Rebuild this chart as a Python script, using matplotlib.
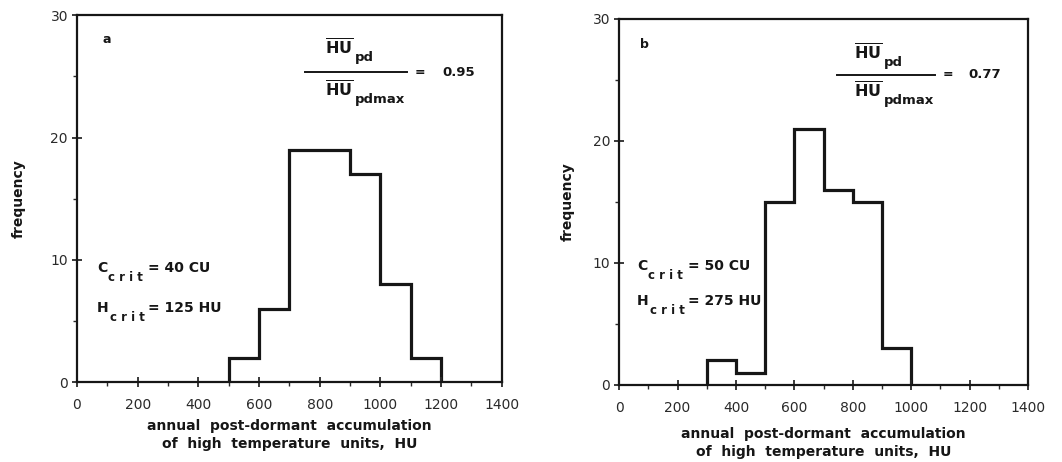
"""Post-dormant heat accumulation histograms, panels a and b"""
import matplotlib
matplotlib.use("Agg")
import matplotlib.pyplot as plt
from matplotlib.lines import Line2D
from matplotlib.ticker import MultipleLocator

plt.rcParams["font.family"] = ["DejaVu Sans"]
plt.rcParams["mathtext.fontset"] = "custom"
plt.rcParams["mathtext.rm"] = "DejaVu Sans:bold"
plt.rcParams["mathtext.bf"] = "DejaVu Sans:bold"

# bin edges (HU) and counts
edges_a = [500, 600, 700, 800, 900, 1000, 1100, 1200]
counts_a = [2, 6, 19, 19, 17, 8, 2]
edges_b = [300, 400, 500, 600, 700, 800, 900, 1000]
counts_b = [2, 1, 15, 21, 16, 15, 3]

ratio_a, ratio_b = "0.95", "0.77"
ccrit_a, ccrit_b = "= 40 CU", "= 50 CU"
hcrit_a, hcrit_b = "= 125 HU", "= 275 HU"

INK = "#161616"

# per panel layout: axes rect, xlabel pad, ylabel pad, text spots
layout = [
    dict(rect=[0.0725, 0.173, 0.400, 0.794], xpad=5, ypad=18,
         tag=(0.061, 0.935), frac=(0.536, 0.776, 0.845), hu_x=0.584,
         num_y=0.891, den_y=0.777, eq_x=0.795, val_x=0.859,
         c_xy=(0.047, 0.30), h_xy=(0.047, 0.19), rest_x=0.167),
    dict(rect=[0.583, 0.167, 0.385, 0.792], xpad=9, ypad=13,
         tag=(0.051, 0.929), frac=(0.533, 0.773, 0.847), hu_x=0.575,
         num_y=0.888, den_y=0.784, eq_x=0.792, val_x=0.853,
         c_xy=(0.044, 0.314), h_xy=(0.044, 0.219), rest_x=0.169),
]
panels = [
    ("a", edges_a, counts_a, ratio_a, ccrit_a, hcrit_a),
    ("b", edges_b, counts_b, ratio_b, ccrit_b, hcrit_b),
]


def with_sub(ax, x, y, main, sub, size, subsize, drop, gap=1):
    t = ax.text(x, y, main, transform=ax.transAxes, fontsize=size,
                fontweight="bold", va="baseline", ha="left", color=INK)
    ax.annotate(sub, xy=(1, 0), xycoords=t, xytext=(gap, -drop),
                textcoords="offset pixels", fontsize=subsize,
                fontweight="bold", va="baseline", ha="left", color=INK)
    return t


fig = plt.figure(figsize=(10.62, 4.62), dpi=100)

for (tag, edges, counts, ratio, ccrit, hcrit), lay in zip(panels, layout):
    ax = fig.add_axes(lay["rect"])
    ax.stairs(counts, edges, color=INK, linewidth=2.3)

    ax.set_xlim(0, 1400)
    ax.set_ylim(0, 30)
    ax.xaxis.set_major_locator(MultipleLocator(200))
    ax.xaxis.set_minor_locator(MultipleLocator(100))
    ax.yaxis.set_major_locator(MultipleLocator(10))
    ax.yaxis.set_minor_locator(MultipleLocator(5))
    ax.tick_params(which="major", direction="inout", length=7, width=1.3,
                   labelsize=10, colors="#2a2a2a", pad=3)
    ax.tick_params(axis="x", which="major", pad=8)
    ax.tick_params(which="minor", direction="out", length=3, width=1.0,
                   colors="#2a2a2a")
    for sp in ax.spines.values():
        sp.set_linewidth(1.6)
        sp.set_color(INK)

    ax.set_ylabel("frequency", fontweight="bold", fontsize=10,
                  labelpad=lay["ypad"], color=INK)
    ax.set_xlabel("annual  post-dormant  accumulation\n"
                  "of  high  temperature  units,  HU",
                  fontweight="bold", fontsize=10, labelpad=lay["xpad"],
                  linespacing=1.35, color=INK)

    ax.text(*lay["tag"], tag, transform=ax.transAxes, fontweight="bold",
            fontsize=9, va="center", color=INK)

    # fraction  HU_pd / HU_pdmax = ratio
    fx0, fx1, fy = lay["frac"]
    ax.add_line(Line2D([fx0, fx1], [fy, fy], transform=ax.transAxes,
                       color=INK, linewidth=1.4))
    with_sub(ax, lay["hu_x"], lay["num_y"], r"$\overline{\mathbf{HU}}$",
             "pd", 11.5, 9.5, 3)
    with_sub(ax, lay["hu_x"], lay["den_y"], r"$\overline{\mathbf{HU}}$",
             "pdmax", 11.5, 9.5, 3)
    ax.text(lay["eq_x"], fy, "=", transform=ax.transAxes, fontsize=9,
            fontweight="bold", va="center", ha="left", color=INK)
    ax.text(lay["val_x"], fy, ratio, transform=ax.transAxes, fontsize=9.5,
            fontweight="bold", va="center", ha="left", color=INK)

    # critical chill / heat requirements
    for (x, y), letter, rest in ((lay["c_xy"], "C", ccrit),
                                 (lay["h_xy"], "H", hcrit)):
        with_sub(ax, x, y, letter, "c r i t", 10, 8.5, 6)
        ax.text(lay["rest_x"], y, rest, transform=ax.transAxes, fontsize=10,
                fontweight="bold", va="baseline", ha="left", color=INK)

fig.savefig("out.png", dpi=100)
